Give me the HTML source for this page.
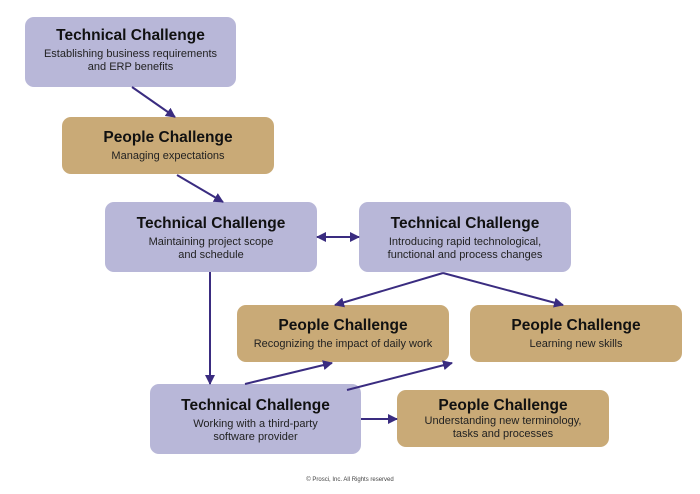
<!DOCTYPE html>
<html><head><style>
body{margin:0;width:700px;height:494px;background:#fff;position:relative;overflow:hidden;font-family:"Liberation Sans",sans-serif}
.b{position:absolute;border-radius:9px;text-align:center;color:#111;box-sizing:border-box}
.t{background:#b8b7d8}.p{background:#c9aa77}
.b h{display:block;font-weight:bold;font-size:15.5px;line-height:18px}
.b s{display:block;text-decoration:none;font-size:11px;line-height:13px;color:#222;margin-top:3px}
svg{position:absolute;left:0;top:0}
</style></head><body>
<div class="b t" style="left:25px;top:17px;width:211px;height:70px;padding-top:10px"><h>Technical Challenge</h><s>Establishing business requirements<br>and ERP benefits</s></div>
<div class="b p" style="left:62px;top:117px;width:212px;height:57px;padding-top:12px"><h>People Challenge</h><s>Managing expectations</s></div>
<div class="b t" style="left:105px;top:202px;width:212px;height:70px;padding-top:13px"><h>Technical Challenge</h><s>Maintaining project scope<br>and schedule</s></div>
<div class="b t" style="left:359px;top:202px;width:212px;height:70px;padding-top:13px"><h>Technical Challenge</h><s>Introducing rapid technological,<br>functional and process changes</s></div>
<div class="b p" style="left:237px;top:305px;width:212px;height:57px;padding-top:12px"><h>People Challenge</h><s>Recognizing the impact of daily work</s></div>
<div class="b p" style="left:470px;top:305px;width:212px;height:57px;padding-top:12px"><h>People Challenge</h><s>Learning new skills</s></div>
<div class="b t" style="left:150px;top:384px;width:211px;height:70px;padding-top:13px"><h>Technical Challenge</h><s>Working with a third-party<br>software provider</s></div>
<div class="b p" style="left:397px;top:390px;width:212px;height:57px;padding-top:7px"><h>People Challenge</h><s style="margin-top:0">Understanding new terminology,<br>tasks and processes</s></div>
<div style="position:absolute;left:0;width:700px;top:477px;text-align:center;font-size:6px;color:#444">© Prosci, Inc. All Rights reserved</div>
<svg width="700" height="494">
<defs><marker id="a" markerWidth="10" markerHeight="10" refX="9" refY="5" orient="auto" markerUnits="userSpaceOnUse"><path d="M0,0L10,5L0,10z" fill="#3a2c80"/></marker></defs>
<g stroke="#3a2c80" stroke-width="2" fill="none" marker-end="url(#a)">
<line x1="132" y1="87" x2="175" y2="117"/>
<line x1="177" y1="175" x2="223" y2="202"/>
<line x1="330" y1="237" x2="359" y2="237"/>
<line x1="346" y1="237" x2="317" y2="237"/>
<line x1="210" y1="272" x2="210" y2="384"/>
<line x1="443" y1="273" x2="335" y2="305"/>
<line x1="443" y1="273" x2="563" y2="305"/>
<line x1="245" y1="384" x2="332" y2="363"/>
<line x1="347" y1="390" x2="452" y2="363"/>
<line x1="361" y1="419" x2="397" y2="419"/>
</g></svg>
</body></html>
